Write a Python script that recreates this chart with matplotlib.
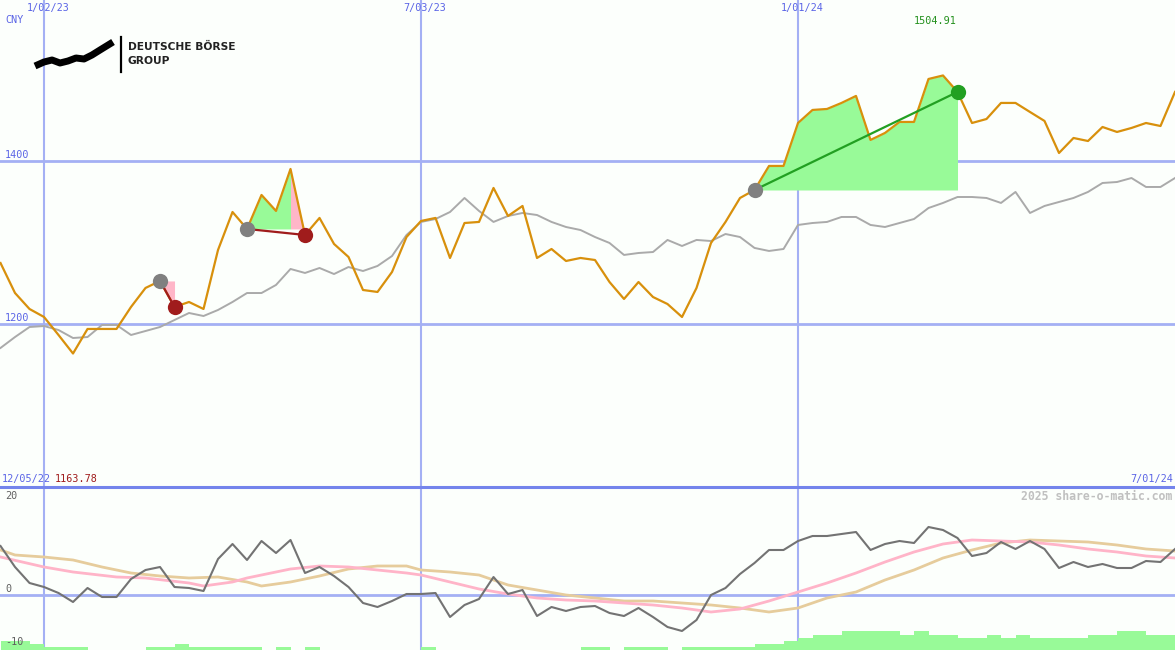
import matplotlib
matplotlib.use("Agg")
import matplotlib.pyplot as plt
import matplotlib.lines as mlines
import numpy as np
import pandas as pd

# ---------------- data ----------------
dates = pd.date_range("2022-12-12", periods=82, freq="W-MON")

price = [1274.8, 1238.0, 1218.4, 1208.6, 1186.5, 1163.78, 1193.9, 1193.9, 1193.9, 1220.9,
         1244.2, 1252.8, 1220.9, 1227.0, 1218.4, 1290.8, 1337.4, 1316.6, 1358.3, 1338.7,
         1390.2, 1309.2, 1330.1, 1298.2, 1282.2, 1241.7, 1239.3, 1263.8, 1306.7, 1326.4,
         1330.1, 1281.0, 1323.9, 1325.2, 1366.9, 1332.5, 1344.8, 1281.0, 1292.0, 1277.3,
         1281.0, 1278.5, 1251.5, 1230.7, 1251.5, 1233.1, 1224.5, 1208.6, 1244.2, 1299.4,
         1325.2, 1354.6, 1364.4, 1393.9, 1393.9, 1446.6, 1462.6, 1463.8, 1471.2, 1479.8,
         1425.8, 1434.4, 1447.9, 1447.9, 1500.6, 1504.91, 1484.7, 1446.6, 1451.5, 1471.2,
         1471.2, 1460.1, 1449.1, 1409.8, 1428.2, 1424.5, 1441.7, 1435.6, 1440.5, 1446.6,
         1442.9, 1484.7]

benchmark = [1170.6, 1184.0, 1196.3, 1197.5, 1192.6, 1182.8, 1184.0, 1198.8, 1198.8, 1186.5,
             1191.4, 1196.3, 1204.9, 1213.5, 1209.8, 1217.2, 1227.0, 1238.0, 1238.0, 1247.9,
             1267.5, 1262.6, 1268.7, 1261.3, 1269.9, 1265.0, 1271.2, 1283.4, 1309.2, 1325.2,
             1328.8, 1337.4, 1354.6, 1338.7, 1325.2, 1332.5, 1336.2, 1333.7, 1325.2, 1319.0,
             1315.3, 1306.7, 1299.4, 1284.7, 1287.1, 1288.3, 1303.1, 1295.7, 1303.1, 1301.8,
             1310.4, 1306.7, 1293.3, 1289.6, 1292.0, 1321.5, 1323.9, 1325.2, 1331.3, 1331.3,
             1321.5, 1319.0, 1323.9, 1328.8, 1342.3, 1348.5, 1355.8, 1355.8, 1354.6, 1348.5,
             1362.0, 1336.2, 1344.8, 1349.7, 1354.6, 1362.0, 1373.0, 1374.2, 1379.1, 1368.1,
             1368.1, 1379.1]

momentum = [9.8, 5.6, 2.4, 1.6, 0.4, -1.4, 1.4, -0.4, -0.4, 3.2,
            5.0, 5.6, 1.6, 1.4, 0.8, 7.2, 10.2, 7.0, 10.8, 8.4,
            11.0, 4.4, 5.6, 3.8, 1.6, -1.6, -2.4, -1.2, 0.2, 0.2,
            0.4, -4.4, -2.0, -0.8, 3.6, 0.2, 1.0, -4.2, -2.4, -3.2,
            -2.4, -2.2, -3.6, -4.2, -2.6, -4.4, -6.4, -7.2, -5.0, 0.0,
            1.4, 4.2, 6.4, 9.0, 9.0, 10.8, 11.8, 11.8, 12.2, 12.6,
            9.0, 10.2, 10.8, 10.4, 13.6, 13.0, 11.4, 7.8, 8.4, 10.6,
            9.2, 10.8, 9.2, 5.4, 6.6, 5.6, 6.2, 5.4, 5.4, 6.8,
            6.6, 9.2]

pink_idx = [0, 3, 5, 8, 10, 13, 14, 16, 17, 19, 20, 22, 24, 26, 28, 29, 31, 33, 35, 37, 39,
            41, 43, 45, 47, 49, 51, 53, 55, 57, 59, 61, 63, 65, 67, 69, 71, 73, 75, 77, 79, 81]
pink_avg = [7.6, 5.6, 4.6, 3.6, 3.4, 2.4, 1.8, 2.6, 3.4, 4.6, 5.2, 5.8, 5.6, 5.0, 4.4, 4.0,
            2.6, 1.2, 0.2, -0.6, -1.0, -1.2, -1.6, -2.0, -2.6, -3.4, -2.8, -1.2, 0.6, 2.4,
            4.4, 6.6, 8.6, 10.2, 11.0, 10.8, 10.6, 10.0, 9.2, 8.6, 7.8, 7.4]

tan_idx = [0, 1, 3, 5, 7, 9, 11, 13, 15, 17, 18, 20, 22, 24, 26, 28, 29, 31, 33, 35, 37, 39,
           41, 43, 45, 47, 49, 51, 53, 55, 57, 59, 61, 63, 65, 67, 69, 71, 73, 75, 77, 79, 81]
tan_avg = [9.0, 8.0, 7.6, 7.0, 5.6, 4.4, 3.8, 3.4, 3.6, 2.6, 1.8, 2.6, 3.8, 5.2, 5.8, 5.8,
           5.0, 4.6, 4.0, 2.0, 1.0, 0.0, -0.6, -1.2, -1.2, -1.6, -2.0, -2.6, -3.4, -2.6,
           -0.6, 0.6, 3.0, 5.0, 7.4, 9.0, 10.4, 11.0, 10.8, 10.6, 10.0, 9.2, 8.8]

# weekly strength levels (green bars at the bottom), one per week interval
bar_levels = [3, 3, 2, 1, 1, 1, 0, 0, 0, 0,
              1, 1, 2, 1, 1, 1, 1, 1, 0, 1,
              0, 1, 0, 0, 0, 0, 0, 0, 0, 1,
              0, 0, 0, 0, 0, 0, 0, 0, 0, 0,
              1, 1, 0, 1, 1, 1, 0, 1, 1, 1,
              1, 1, 2, 2, 3, 4, 5, 5, 6, 6,
              6, 6, 5, 6, 5, 5, 4, 4, 5, 4,
              5, 4, 4, 4, 4, 5, 5, 6, 6, 5,
              5]

# trade annotations: (start index, end index)
trades = [(11, 12), (17, 21), (52, 66)]

grid_dates = ["2023-01-02", "2023-07-03", "2024-01-01"]
grid_labels = ["1/02/23", "7/03/23", "1/01/24"]
price_levels = [1400, 1200]

# ---------------- style ----------------
W, H = 1175, 650
BG = "#fcfffc"
GRID = "#a4b0f4"
BLUE_TXT = "#5a64e6"
ORANGE = "#d8900c"
MONO = "DejaVu Sans Mono"

fig = plt.figure(figsize=(W / 100, H / 100), dpi=100, facecolor=BG)
split = (H - 487) / H
ax = fig.add_axes([0, split, 1, 1 - split], facecolor=BG)
ax2 = fig.add_axes([0, 0, 1, split], facecolor=BG, sharex=ax)

x0 = dates[0] - pd.Timedelta(hours=6)
x1 = dates[-1]
for a in (ax, ax2):
    a.set_xlim(x0, x1)
    for s in a.spines.values():
        s.set_visible(False)
    a.set_xticks([])
    a.set_yticks([])
    for gd in grid_dates:
        a.axvline(pd.Timestamp(gd), color=GRID, lw=1.5, zorder=1)

ax.set_ylim(1000, 1597.5)
ax2.set_ylim(-11, 21.6)

for lv in price_levels:
    ax.axhline(lv, color=GRID, lw=2, zorder=1)
ax2.axhline(0, color=GRID, lw=2, zorder=1)

# ---- upper panel ----
ax.plot(dates, benchmark, color="#aaaaaa", lw=1.4, zorder=3)

pr = np.array(price)
for s, e in trades:
    xs = dates[s:e + 1]
    ys = pr[s:e + 1]
    base = pr[s]
    gain = pr[e] >= base
    if gain:
        ax.fill_between(xs, ys, base, color="#98fa98", lw=0, zorder=2)
    else:
        # rising part in green, falling tail in pink
        peak = s + int(np.argmax(ys))
        if peak > s:
            ax.fill_between(dates[s:peak + 1], pr[s:peak + 1], base, color="#98fa98", lw=0, zorder=2)
        ax.fill_between(dates[peak:e + 1], pr[peak:e + 1], base, color="#ffb6c8", lw=0, zorder=2)

ax.plot(dates, price, color=ORANGE, lw=1.6, zorder=4)

for s, e in trades:
    gain = pr[e] >= pr[s]
    c = "#22a022" if gain else "#a01c1c"
    ax.plot([dates[s], dates[e]], [pr[s], pr[e]], color=c, lw=1.6, zorder=5)
    ax.plot(dates[s], pr[s], "o", color="#808080", ms=11, mew=0, zorder=6)
    ax.plot(dates[e], pr[e], "o", color=c, ms=11, mew=0, zorder=6)

# ---- lower panel ----
lv = np.array(bar_levels) * 0.62
ax2.bar(dates[:-1], lv, width=7, align="edge", bottom=-11, color="#98fa98", lw=0, zorder=2)
ax2.plot(dates[tan_idx], tan_avg, color="#e6cc9c", lw=2, zorder=3)
ax2.plot(dates[pink_idx], pink_avg, color="#ffb4c8", lw=2, zorder=3)
ax2.plot(dates, momentum, color="#737373", lw=1.5, zorder=4)

# separator
fig.add_artist(mlines.Line2D([0, 1], [split, split], color="#7484ec", lw=2.2,
                             transform=fig.transFigure))


def ftext(x, y, s, **kw):
    kw.setdefault("family", MONO)
    kw.setdefault("fontsize", 7.3)
    fig.text(x / W, 1 - y / H, s, **kw)


# labels
ftext(5, 20, "CNY", color=BLUE_TXT, va="center")
for gd, gl in zip(grid_dates, grid_labels):
    xpix = (pd.Timestamp(gd) - x0) / (x1 - x0) * W
    ftext(xpix + 4, 8, gl, color=BLUE_TXT, ha="center", va="center")
ftext(5, 155, "1400", color=BLUE_TXT, va="center")
ftext(5, 318, "1200", color=BLUE_TXT, va="center")
ftext(935, 21, "%.2f" % max(price), color="#22901c", ha="center", va="center")
ftext(2, 479, "12/05/22", color=BLUE_TXT, va="center")
ftext(55, 479, "%.2f" % min(price), color="#a01c1c", va="center")
ftext(1173, 479, "7/01/24", color=BLUE_TXT, ha="right", va="center")
ftext(1172, 496, "2025 share-o-matic.com", color="#c0c0c0", ha="right", va="center",
      fontweight="bold", fontsize=8.3)
ftext(5, 496, "20", color="#606060", va="center")
ftext(5, 589, "0", color="#606060", va="center")
ftext(5, 642, "-10", color="#606060", va="center")

# logo
rib_x = [35, 44, 52, 60, 68, 76, 84, 92, 100, 113]
rib_y = [66, 62, 60, 63, 61, 58, 59, 55, 50, 42]
fig.add_artist(mlines.Line2D([x / W for x in rib_x], [1 - y / H for y in rib_y],
                             color="black", lw=5, solid_capstyle="butt",
                             transform=fig.transFigure))
fig.add_artist(mlines.Line2D([121 / W, 121 / W], [1 - 37 / H, 1 - 72 / H],
                             color="black", lw=1.6, transform=fig.transFigure))
fig.text(128 / W, 1 - 47 / H, "DEUTSCHE BÖRSE", family="DejaVu Sans", fontweight="bold",
         fontsize=7.7, color="#222222", va="center")
fig.text(128 / W, 1 - 61 / H, "GROUP", family="DejaVu Sans", fontweight="bold",
         fontsize=7.7, color="#222222", va="center")

fig.savefig("out.png", dpi=100, facecolor=BG)
